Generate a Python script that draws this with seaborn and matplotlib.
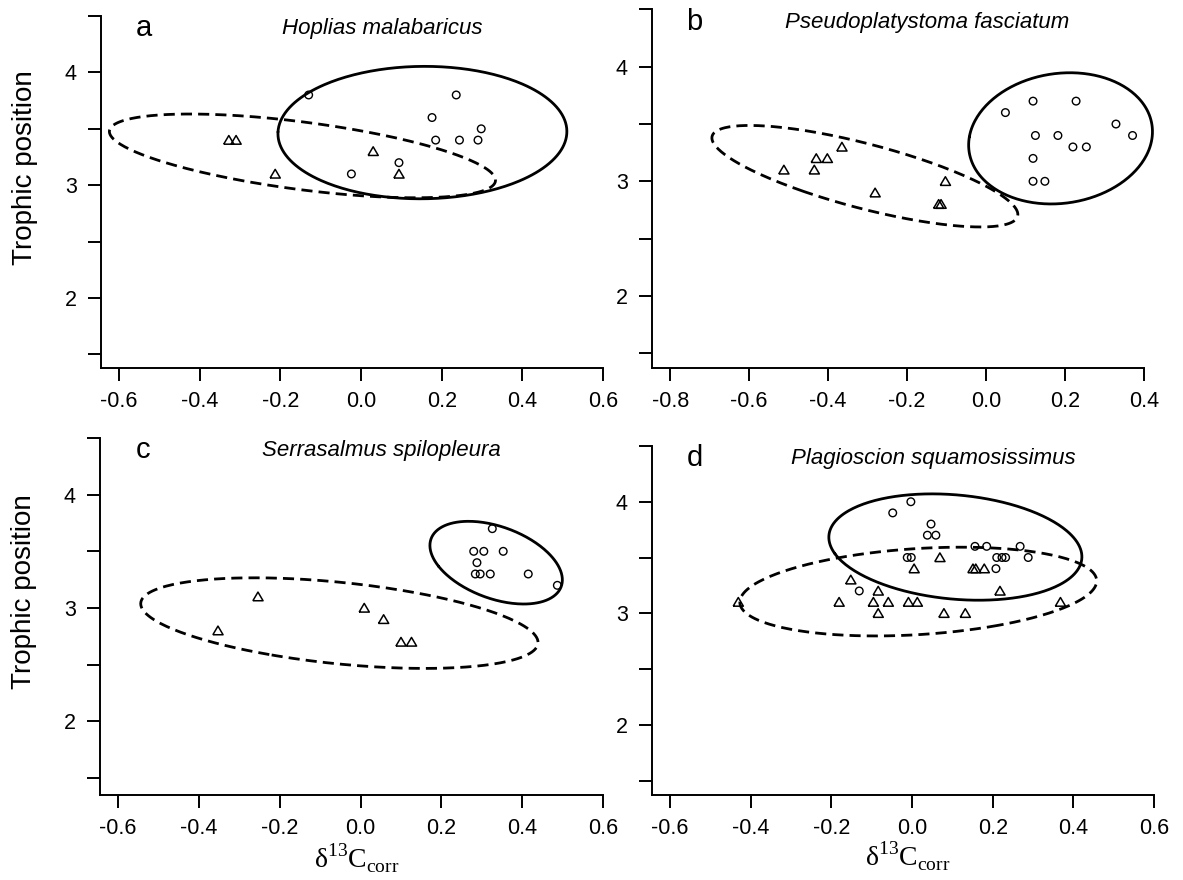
import numpy as np
import matplotlib
matplotlib.use("Agg")
import matplotlib.pyplot as plt
import seaborn as sns

# a. Hoplias malabaricus
a_circ_x = [-0.130, 0.236, 0.176, 0.298, 0.185, 0.244, 0.290, 0.094, -0.024]
a_circ_y = [3.8, 3.8, 3.6, 3.5, 3.4, 3.4, 3.4, 3.2, 3.1]
a_tri_x = [-0.328, -0.310, -0.213, 0.030, 0.094]
a_tri_y = [3.4, 3.4, 3.1, 3.3, 3.1]

# b. Pseudoplatystoma fasciatum
b_circ_x = [0.049, 0.119, 0.228, 0.329, 0.371, 0.125, 0.182, 0.220, 0.254, 0.119, 0.119, 0.149]
b_circ_y = [3.6, 3.7, 3.7, 3.5, 3.4, 3.4, 3.4, 3.3, 3.3, 3.2, 3.0, 3.0]
b_tri_x = [-0.512, -0.435, -0.430, -0.402, -0.365, -0.281, -0.120, -0.114, -0.103]
b_tri_y = [3.1, 3.1, 3.2, 3.2, 3.3, 2.9, 2.8, 2.8, 3.0]

# c. Serrasalmus spilopleura
c_circ_x = [0.326, 0.280, 0.305, 0.353, 0.288, 0.284, 0.296, 0.321, 0.415, 0.487]
c_circ_y = [3.7, 3.5, 3.5, 3.5, 3.4, 3.3, 3.3, 3.3, 3.3, 3.2]
c_tri_x = [-0.353, -0.254, 0.009, 0.057, 0.100, 0.126]
c_tri_y = [2.8, 3.1, 3.0, 2.9, 2.7, 2.7]

# d. Plagioscion squamosissimus
d_circ_x = [-0.003, -0.048, 0.047, 0.038, 0.059, 0.156, 0.185, 0.268, -0.012, -0.002,
            0.210, 0.223, 0.232, 0.288, 0.208, -0.131]
d_circ_y = [4.0, 3.9, 3.8, 3.7, 3.7, 3.6, 3.6, 3.6, 3.5, 3.5,
            3.5, 3.5, 3.5, 3.5, 3.4, 3.2]
d_tri_x = [-0.431, -0.181, -0.152, -0.084, -0.096, -0.059, -0.009, 0.013, -0.084, 0.079,
           0.132, 0.005, 0.069, 0.151, 0.158, 0.179, 0.218, 0.368]
d_tri_y = [3.1, 3.1, 3.3, 3.2, 3.1, 3.1, 3.1, 3.1, 3.0, 3.0,
           3.0, 3.4, 3.5, 3.4, 3.4, 3.4, 3.2, 3.1]

letters = ["a", "b", "c", "d"]
species = ["Hoplias malabaricus", "Pseudoplatystoma fasciatum",
           "Serrasalmus spilopleura", "Plagioscion squamosissimus"]
xticks_ac = [-0.6, -0.4, -0.2, 0.0, 0.2, 0.4, 0.6]
xticks_b = [-0.8, -0.6, -0.4, -0.2, 0.0, 0.2, 0.4]
yticks = [1.5, 2.0, 2.5, 3.0, 3.5, 4.0, 4.5]
ylabels = ["", "2", "", "3", "", "4", ""]

sns.set_style("ticks")
plt.rcParams["font.family"] = ["Liberation Sans", "DejaVu Sans"]
plt.rcParams["mathtext.fontset"] = "custom"
plt.rcParams["mathtext.rm"] = "Liberation Serif"
plt.rcParams["text.color"] = "black"
plt.rcParams["axes.labelcolor"] = "black"

W, H = 1183, 880
fig = plt.figure(figsize=(W / 100, H / 100), dpi=100)

# axes boxes in pixels: left, top, right, bottom
boxes = [(101, 16, 603, 368), (652, 9.5, 1144, 368),
         (100, 438, 603, 795), (652, 446, 1154, 795)]
xlims = [(-0.645, 0.6), (-0.846, 0.4), (-0.645, 0.6), (-0.645, 0.6)]
ylims = [(1.38, 4.5), (1.37, 4.5), (1.35, 4.5), (1.37, 4.5)]

panels = [(a_circ_x, a_circ_y, a_tri_x, a_tri_y),
          (b_circ_x, b_circ_y, b_tri_x, b_tri_y),
          (c_circ_x, c_circ_y, c_tri_x, c_tri_y),
          (d_circ_x, d_circ_y, d_tri_x, d_tri_y)]

tri = [(-1.0, -0.8), (1.0, -0.8), (0.0, 0.9), (-1.0, -0.8)]


def ellipse95(x, y, n=300):
    # 95% normal data ellipse from the sample covariance
    xy = np.column_stack([x, y])
    vals, vecs = np.linalg.eigh(np.cov(xy, rowvar=False))
    t = np.linspace(0, 2 * np.pi, n)
    circ = np.vstack([np.cos(t), np.sin(t)])
    pts = xy.mean(0) + (np.sqrt(5.991) * vecs @ np.diag(np.sqrt(vals)) @ circ).T
    return pts[:, 0], pts[:, 1]


for i, (cx, cy, tx, ty) in enumerate(panels):
    l, t, r, b = boxes[i]
    ax = fig.add_axes([l / W, 1 - b / H, (r - l) / W, (b - t) / H])

    ex, ey = ellipse95(cx, cy)
    ax.plot(ex, ey, color="black", lw=2.0, clip_on=False)
    ex, ey = ellipse95(tx, ty)
    ax.plot(ex, ey, color="black", lw=2.0, ls=(0, (4, 2.2)), clip_on=False)

    sns.scatterplot(x=cx, y=cy, ax=ax, marker="o", s=30, facecolors="none",
                    edgecolor="black", linewidth=1.0, zorder=3, clip_on=False)
    sns.scatterplot(x=tx, y=ty, ax=ax, marker=tri, s=54, facecolors="none",
                    edgecolor="black", linewidth=1.1, zorder=3, clip_on=False)

    ax.set_xlim(*xlims[i])
    ax.set_ylim(*ylims[i])
    xt = xticks_b if i == 1 else xticks_ac
    ax.set_xticks(xt)
    ax.set_xticklabels([f"{v:.1f}" for v in xt])
    ax.set_yticks(yticks)
    ax.set_yticklabels(ylabels)
    ax.tick_params(axis="both", direction="out", length=9.5, width=1.4,
                   labelsize=15.5, color="black", labelcolor="black")
    ax.tick_params(axis="x", pad=7)
    ax.tick_params(axis="y", pad=8)
    for side in ["top", "right"]:
        ax.spines[side].set_visible(False)
    for side in ["left", "bottom"]:
        ax.spines[side].set_linewidth(1.4)
        ax.spines[side].set_color("black")

    ax.text(0.085, 0.965, letters[i], transform=ax.transAxes, ha="center",
            va="center", fontsize=21, color="black")
    ax.text(0.56, 0.965, species[i], transform=ax.transAxes, ha="center",
            va="center", fontsize=16, style="italic", color="black")

    if i in (0, 2):
        ax.set_ylabel("Trophic position", fontsize=20, va="center")
        ax.yaxis.set_label_coords(-0.151, 0.57)
    else:
        ax.set_ylabel("")
    if i in (2, 3):
        ax.set_xlabel(r"δ$^{\mathrm{13}}$C$_{\mathrm{corr}}$", fontsize=20,
                      family=["Liberation Serif", "DejaVu Serif"], va="center")
        ax.xaxis.set_label_coords(0.51, -0.176)
    else:
        ax.set_xlabel("")

fig.savefig("out.png", dpi=100)
